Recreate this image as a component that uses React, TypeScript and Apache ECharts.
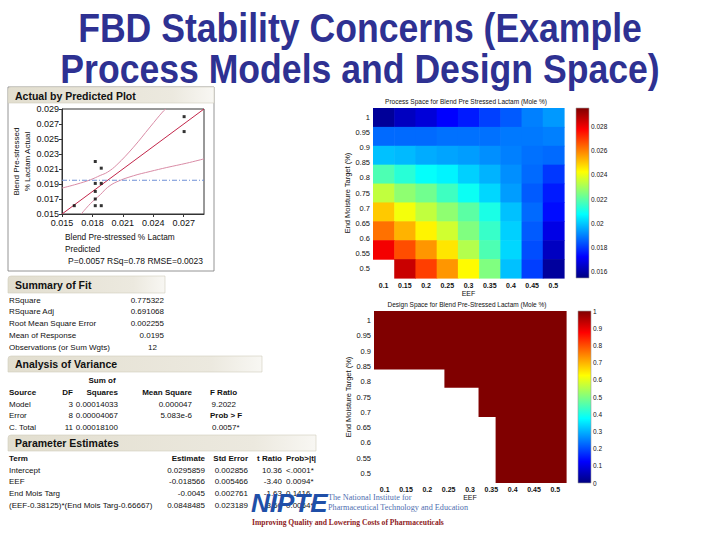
import React, { useEffect, useRef } from 'react';
import * as echarts from 'echarts';

// ---------- Title ----------
const titleLines = ['FBD Stability Concerns (Example', 'Process Models and Design Space)'];

// ---------- Actual by Predicted plot ----------
const apRange = [0.015, 0.029];
const predicted = [0.01621, 0.01828, 0.01828, 0.01828, 0.01828, 0.01828, 0.01887, 0.01887, 0.01887, 0.02704, 0.02704];
const actual = [0.01611, 0.0220, 0.01908, 0.01801, 0.0170, 0.01611, 0.02111, 0.01908, 0.01611, 0.02798, 0.02599];
const fitX = [0.015, 0.029];
const fitY = [0.015, 0.029];
const meanResponse = 0.0195;
const upperX = [0.015, 0.01648, 0.01779, 0.01877, 0.01949, 0.02041, 0.02205, 0.02369, 0.025, 0.02526];
const upperY = [0.01846, 0.01899, 0.01956, 0.02014, 0.02058, 0.02156, 0.02391, 0.02661, 0.02873, 0.029];
const lowerX = [0.0169, 0.01779, 0.01877, 0.01949, 0.02041, 0.02205, 0.02369, 0.02533, 0.0273, 0.029];
const lowerY = [0.015, 0.01637, 0.01757, 0.01854, 0.0193, 0.0201, 0.02067, 0.0212, 0.02178, 0.02235];
const apStatLine = 'P=0.0057 RSq=0.78 RMSE=0.0023';

// ---------- JMP tables ----------
const summaryLabels = ['RSquare', 'RSquare Adj', 'Root Mean Square Error', 'Mean of Response', 'Observations (or Sum Wgts)'];
const summaryValues = ['0.775322', '0.691068', '0.002255', '0.0195', '12'];

const anovaSource = ['Model', 'Error', 'C. Total'];
const anovaDF = ['3', '8', '11'];
const anovaSS = ['0.00014033', '0.00004067', '0.00018100'];
const anovaMS = ['0.000047', '5.083e-6', ''];
const anovaF = ['9.2022', 'Prob > F', '0.0057*'];

const peTerms = ['Intercept', 'EEF', 'End Mois Targ', '(EEF-0.38125)*(End Mois Targ-0.66667)'];
const peEstimate = ['0.0295859', '-0.018566', '-0.0045', '0.0848485'];
const peStdError = ['0.002856', '0.005466', '0.002761', '0.023189'];
const peTRatio = ['10.36', '-3.40', '-1.63', '3.66'];
const peProb = ['<.0001*', '0.0094*', '0.1416', '0.0064*'];

// ---------- Process space heatmap ----------
const eefLevels = [0.1, 0.15, 0.2, 0.25, 0.3, 0.35, 0.4, 0.45, 0.5];
const emtLevels = [1, 0.9375, 0.875, 0.8125, 0.75, 0.6875, 0.625, 0.5625, 0.5]; // rows top -> bottom
const processValues: (number | null)[][] = [
  [0.01585, 0.01638, 0.01673, 0.01725, 0.0176, 0.01813, 0.01848, 0.019, 0.01935],
  [0.0187, 0.0187, 0.0187, 0.0188, 0.0188, 0.0188, 0.0189, 0.0189, 0.019],
  [0.0199, 0.0198, 0.0196, 0.0195, 0.0194, 0.0192, 0.019, 0.0188, 0.0187],
  [0.0218, 0.0213, 0.0208, 0.0206, 0.0201, 0.0197, 0.0192, 0.0187, 0.018],
  [0.0234, 0.0227, 0.0223, 0.0216, 0.0209, 0.0202, 0.0194, 0.0185, 0.0176],
  [0.025, 0.0241, 0.0234, 0.0227, 0.022, 0.0211, 0.0199, 0.0187, 0.0174],
  [0.0262, 0.0253, 0.0244, 0.0236, 0.0225, 0.0215, 0.0201, 0.0185, 0.0169],
  [0.0279, 0.0267, 0.0257, 0.0246, 0.0232, 0.0218, 0.0202, 0.0183, 0.0164],
  [null, 0.0285, 0.0269, 0.0257, 0.0243, 0.0225, 0.0199, 0.0181, 0.0159],
];
const processRange = [0.0155, 0.0295];
const processCbTicks = [0.016, 0.018, 0.02, 0.022, 0.024, 0.026, 0.028];
const eefTicks = [0.1, 0.15, 0.2, 0.25, 0.3, 0.35, 0.4, 0.45, 0.5];
const emtTicks = [0.5, 0.55, 0.6, 0.65, 0.7, 0.75, 0.8, 0.85, 0.9, 0.95, 1];

// ---------- Design space ----------
const designEefFrom = [0.075, 0.24, 0.32, 0.36];
const designEefTo = [0.24, 0.32, 0.36, 0.525];
const designEmtFrom = [0.84, 0.78, 0.685, 0.46875];
const designValue = [1, 1, 1, 1];
const designRange = [0, 1];
const designCbTicks = [0, 0.1, 0.2, 0.3, 0.4, 0.5, 0.6, 0.7, 0.8, 0.9, 1];

const jet = ['#000080', '#0000ff', '#0080ff', '#00ffff', '#80ff80', '#ffff00', '#ff8000', '#ff0000', '#800000'];

const FONT = "'Liberation Sans', Arial, Helvetica, sans-serif";
const SERIF = "'Liberation Serif', 'Times New Roman', serif";

function txt(x: number, y: number, text: string, o: any = {}) {
  const el: any = {
    type: 'text',
    x,
    y,
    silent: true,
    style: {
      text,
      fill: o.fill || '#111',
      fontSize: o.size || 8,
      fontFamily: o.family || FONT,
      fontWeight: o.weight || 'normal',
      fontStyle: o.fontStyle || 'normal',
      align: o.align || 'left',
      verticalAlign: 'middle',
      textAlign: o.align || 'left',
      textVerticalAlign: 'middle',
    },
  };
  if (o.scaleX) el.scaleX = o.scaleX;
  return el;
}

function header(x: number, y: number, w: number, h: number) {
  return {
    type: 'rect',
    silent: true,
    shape: { x, y, width: w, height: h, r: [3, 0, 0, 0] },
    style: {
      fill: new echarts.graphic.LinearGradient(0, 0, 1, 0, [
        { offset: 0, color: '#E2DECF' },
        { offset: 0.8, color: '#ECE9DF' },
        { offset: 1, color: '#F8F7F3' },
      ]),
      stroke: '#D2CDBE',
      lineWidth: 0.6,
    },
  };
}

export default function App() {
  const ref = useRef<HTMLDivElement>(null);
  useEffect(() => {
    if (!ref.current) return;
    const chart = echarts.init(ref.current, undefined, { renderer: 'svg' });

    const halfEEF = (eefLevels[1] - eefLevels[0]) / 2;
    const halfEMT = (emtLevels[0] - emtLevels[1]) / 2;
    const hxMin = eefLevels[0] - halfEEF;
    const hxMax = eefLevels[eefLevels.length - 1] + halfEEF;
    const hyMin = emtLevels[emtLevels.length - 1] - halfEMT;
    const hyMax = emtLevels[0] + halfEMT;

    const processData: number[][] = [];
    processValues.forEach((row, r) =>
      row.forEach((v, c) => {
        if (v !== null) processData.push([eefLevels[c], emtLevels[r], v]);
      })
    );
    const designData = designEefFrom.map((x0, i) => [x0, designEefTo[i], designEmtFrom[i], designValue[i]]);

    const gradStops = jet.map((c, i) => ({ offset: i / (jet.length - 1), color: c }));

    const cellRender = (params: any, api: any) => {
      const x = api.value(0);
      const y = api.value(1);
      const a = api.coord([x - halfEEF, y + halfEMT]);
      const b = api.coord([x + halfEEF, y - halfEMT]);
      return {
        type: 'rect',
        shape: { x: a[0], y: a[1], width: b[0] - a[0] + 0.6, height: b[1] - a[1] + 0.6 },
        style: { fill: api.visual('color') },
      };
    };
    const designRender = (params: any, api: any) => {
      const a = api.coord([api.value(0), hyMax]);
      const b = api.coord([api.value(1), api.value(2)]);
      return {
        type: 'rect',
        shape: { x: a[0], y: a[1], width: b[0] - a[0] + 0.6, height: b[1] - a[1] },
        style: { fill: api.visual('color') },
      };
    };
    const cbRender = (params: any, api: any) => {
      const a = api.coord([0, api.value(1)]);
      const b = api.coord([1, api.value(0)]);
      return {
        type: 'rect',
        shape: { x: a[0], y: a[1], width: b[0] - a[0], height: b[1] - a[1] },
        style: {
          fill: new echarts.graphic.LinearGradient(0, 1, 0, 0, gradStops),
          stroke: '#A0A0A0',
          lineWidth: 0.6,
        },
      };
    };

    const heatXAxis = (gridIndex: number, nameGap: number, margin: number) => ({
      gridIndex,
      type: 'value',
      min: hxMin,
      max: hxMax,
      name: 'EEF',
      nameLocation: 'middle',
      nameGap,
      nameTextStyle: { fontSize: 7, color: '#111', fontFamily: FONT },
      axisLine: { show: false },
      axisTick: { show: false },
      splitLine: { show: false },
      axisLabel: {
        customValues: eefTicks,
        fontSize: 7,
        fontWeight: 'bold',
        color: '#111',
        fontFamily: FONT,
        margin,
        formatter: (v: number) => String(parseFloat(v.toFixed(2))),
      },
    });
    const heatYAxis = (gridIndex: number) => ({
      gridIndex,
      type: 'value',
      min: hyMin,
      max: hyMax,
      name: 'End Moisture Target (%)',
      nameLocation: 'middle',
      nameGap: 20,
      nameTextStyle: { fontSize: 7.5, color: '#111', fontFamily: FONT },
      axisLine: { show: false },
      axisTick: { show: false },
      splitLine: { show: false },
      axisLabel: {
        customValues: emtTicks,
        fontSize: 7.5,
        color: '#111',
        fontFamily: FONT,
        margin: 3,
        formatter: (v: number) => String(parseFloat(v.toFixed(2))),
      },
    });
    const cbXAxis = (gridIndex: number) => ({ gridIndex, type: 'value', min: 0, max: 1, show: false });
    const cbYAxis = (gridIndex: number, range: number[], ticks: number[]) => ({
      gridIndex,
      type: 'value',
      position: 'right',
      min: range[0],
      max: range[1],
      axisLine: { show: false },
      axisTick: { show: false },
      splitLine: { show: false },
      axisLabel: {
        customValues: ticks,
        fontSize: 6.5,
        color: '#111',
        fontFamily: FONT,
        margin: 2,
        formatter: (v: number) => String(parseFloat(v.toFixed(3))),
      },
    });

    const graphic: any[] = [];
    // Title
    graphic.push(txt(360, 27.8, titleLines[0], { size: 40, weight: 'bold', fill: '#2E3192', align: 'center', scaleX: 0.89 }));
    graphic.push(txt(360, 69.4, titleLines[1], { size: 40, weight: 'bold', fill: '#2E3192', align: 'center', scaleX: 0.89 }));

    // Actual by Predicted section
    graphic.push({ type: 'rect', silent: true, shape: { x: 8, y: 87, width: 206, height: 184 }, style: { fill: 'none', stroke: '#7A7A7A', lineWidth: 0.8 } });
    graphic.push(header(8, 87, 206, 16));
    graphic.push(txt(15, 95.5, 'Actual by Predicted Plot', { size: 10.5, weight: 'bold' }));
    graphic.push(txt(65, 237, 'Blend Pre-stressed % Lactam', { size: 8.3 }));
    graphic.push(txt(65, 249, 'Predicted', { size: 8.3 }));
    graphic.push(txt(68, 261, apStatLine, { size: 8.5 }));

    // Summary of Fit
    graphic.push(header(8, 276, 157, 17));
    graphic.push(txt(15, 285, 'Summary of Fit', { size: 10.5, weight: 'bold' }));
    summaryLabels.forEach((l, i) => {
      const y = 300 + i * 11.8;
      graphic.push(txt(9, y, l, { size: 8 }));
      const isInt = summaryValues[i].indexOf('.') < 0;
      graphic.push(txt(isInt ? 157 : 164, y, summaryValues[i], { size: 8, align: 'right' }));
    });

    // Analysis of Variance
    graphic.push(header(8, 356, 254, 16));
    graphic.push(txt(15, 364, 'Analysis of Variance', { size: 10.5, weight: 'bold' }));
    graphic.push(txt(102, 380, 'Sum of', { size: 8, weight: 'bold', align: 'center' }));
    graphic.push(txt(9, 392, 'Source', { size: 8, weight: 'bold' }));
    graphic.push(txt(73, 392, 'DF', { size: 8, weight: 'bold', align: 'right' }));
    graphic.push(txt(118, 392, 'Squares', { size: 8, weight: 'bold', align: 'right' }));
    graphic.push(txt(192, 392, 'Mean Square', { size: 8, weight: 'bold', align: 'right' }));
    graphic.push(txt(210, 392, 'F Ratio', { size: 8, weight: 'bold' }));
    anovaSource.forEach((s, i) => {
      const y = 404 + i * 11.8;
      graphic.push(txt(9, y, s, { size: 8 }));
      graphic.push(txt(73, y, anovaDF[i], { size: 8, align: 'right' }));
      graphic.push(txt(118, y, anovaSS[i], { size: 8, align: 'right' }));
      if (anovaMS[i]) graphic.push(txt(192, y, anovaMS[i], { size: 8, align: 'right' }));
      if (i === 0) graphic.push(txt(236, y, anovaF[i], { size: 8, align: 'right' }));
      else if (i === 1) graphic.push(txt(210, y, anovaF[i], { size: 8, weight: 'bold' }));
      else graphic.push(txt(212, y, anovaF[i], { size: 8 }));
    });

    // Parameter Estimates
    graphic.push(header(8, 435, 308, 16));
    graphic.push(txt(15, 443, 'Parameter Estimates', { size: 10.5, weight: 'bold' }));
    graphic.push(txt(9, 458, 'Term', { size: 8, weight: 'bold' }));
    graphic.push(txt(205, 458, 'Estimate', { size: 8, weight: 'bold', align: 'right' }));
    graphic.push(txt(248, 458, 'Std Error', { size: 8, weight: 'bold', align: 'right' }));
    graphic.push(txt(282, 458, 't Ratio', { size: 8, weight: 'bold', align: 'right' }));
    graphic.push(txt(286, 458, 'Prob>|t|', { size: 8, weight: 'bold' }));
    peTerms.forEach((term, i) => {
      const y = 470 + i * 11.8;
      graphic.push(txt(9, y, term, { size: 8 }));
      graphic.push(txt(205, y, peEstimate[i], { size: 8, align: 'right' }));
      graphic.push(txt(248, y, peStdError[i], { size: 8, align: 'right' }));
      graphic.push(txt(282, y, peTRatio[i], { size: 8, align: 'right' }));
      graphic.push(txt(286, y, peProb[i], { size: 8 }));
    });

    // NIPTE logo
    graphic.push(txt(251, 503, 'NIPTE', { size: 26, weight: 'bold', fontStyle: 'italic', fill: '#1F4FA8', family: "'Liberation Sans', Arial, sans-serif" }));
    graphic.push(txt(328, 497.5, 'The National Institute for', { size: 8.2, family: SERIF, fill: '#4F6FB0' }));
    graphic.push(txt(328, 507.5, 'Pharmaceutical Technology and Education', { size: 8.2, family: SERIF, fill: '#4F6FB0' }));
    graphic.push(txt(252, 522, 'Improving Quality and Lowering Costs of Pharmaceuticals', { size: 7.6, family: SERIF, weight: 'bold', fill: '#8E1B22' }));

    // Heatmap titles
    graphic.push(txt(466, 101, 'Process Space for Blend Pre Stressed Lactam (Mole %)', { size: 6.5, align: 'center' }));
    graphic.push(txt(467, 304, 'Design Space for Blend Pre-Stressed Lactam (Mole %)', { size: 6.5, align: 'center' }));

    const option: any = {
      animation: false,
      backgroundColor: '#ffffff',
      textStyle: { fontFamily: FONT },
      grid: [
        { left: 62, top: 109, width: 142, height: 105, show: true, borderColor: '#333', borderWidth: 1, backgroundColor: '#fff' },
        { left: 373, top: 108, width: 191, height: 170 },
        { left: 576, top: 108, width: 13, height: 170 },
        { left: 374, top: 311, width: 192, height: 172 },
        { left: 578, top: 311, width: 13, height: 172 },
      ],
      xAxis: [
        {
          gridIndex: 0,
          type: 'value',
          min: apRange[0],
          max: apRange[1],
          interval: 0.003,
          axisLine: { show: true, lineStyle: { color: '#333' } },
          axisTick: { show: true, length: 3, lineStyle: { color: '#333' } },
          splitLine: { show: false },
          axisLabel: { fontSize: 9, color: '#111', margin: 4, showMaxLabel: false, formatter: (v: number) => v.toFixed(3) },
        },
        heatXAxis(1, 11, 4),
        cbXAxis(2),
        heatXAxis(3, 10, 3),
        cbXAxis(4),
      ],
      yAxis: [
        {
          gridIndex: 0,
          type: 'value',
          min: apRange[0],
          max: apRange[1],
          interval: 0.002,
          name: 'Blend Pre-stressed\n% Lactam Actual',
          nameLocation: 'middle',
          nameGap: 28,
          nameTextStyle: { fontSize: 8, lineHeight: 11, color: '#111', fontFamily: FONT },
          axisLine: { show: true, lineStyle: { color: '#333' } },
          axisTick: { show: true, length: 3, lineStyle: { color: '#333' } },
          splitLine: { show: false },
          axisLabel: { fontSize: 9, color: '#111', margin: 3, formatter: (v: number) => v.toFixed(3) },
        },
        heatYAxis(1),
        cbYAxis(2, processRange, processCbTicks),
        heatYAxis(3),
        cbYAxis(4, designRange, designCbTicks),
      ],
      visualMap: [
        { type: 'continuous', show: false, min: processRange[0], max: processRange[1], dimension: 2, seriesIndex: [5], inRange: { color: jet } },
        { type: 'continuous', show: false, min: designRange[0], max: designRange[1], dimension: 3, seriesIndex: [7], inRange: { color: jet } },
      ],
      series: [
        {
          type: 'scatter',
          xAxisIndex: 0,
          yAxisIndex: 0,
          symbol: 'rect',
          symbolSize: 3,
          itemStyle: { color: '#000' },
          data: predicted.map((p, i) => [p, actual[i]]),
          z: 5,
        },
        {
          type: 'line',
          xAxisIndex: 0,
          yAxisIndex: 0,
          symbol: 'none',
          lineStyle: { color: '#C2264A', width: 1 },
          data: fitX.map((x, i) => [x, fitY[i]]),
        },
        {
          type: 'line',
          xAxisIndex: 0,
          yAxisIndex: 0,
          symbol: 'none',
          smooth: 0.4,
          clip: true,
          lineStyle: { color: '#D98CA6', width: 1 },
          data: upperX.map((x, i) => [x, upperY[i]]),
        },
        {
          type: 'line',
          xAxisIndex: 0,
          yAxisIndex: 0,
          symbol: 'none',
          smooth: 0.4,
          clip: true,
          lineStyle: { color: '#D98CA6', width: 1 },
          data: lowerX.map((x, i) => [x, lowerY[i]]),
        },
        {
          type: 'line',
          xAxisIndex: 0,
          yAxisIndex: 0,
          symbol: 'none',
          lineStyle: { color: '#6F90D6', width: 1, type: [5, 2, 1, 2] },
          data: apRange.map((x) => [x, meanResponse]),
        },
        {
          type: 'custom',
          xAxisIndex: 1,
          yAxisIndex: 1,
          renderItem: cellRender,
          encode: { x: 0, y: 1 },
          data: processData,
        },
        {
          type: 'custom',
          xAxisIndex: 2,
          yAxisIndex: 2,
          renderItem: cbRender,
          encode: { y: [0, 1] },
          data: [[processRange[0], processRange[1]]],
        },
        {
          type: 'custom',
          xAxisIndex: 3,
          yAxisIndex: 3,
          renderItem: designRender,
          encode: { x: [0, 1], y: 2 },
          data: designData,
        },
        {
          type: 'custom',
          xAxisIndex: 4,
          yAxisIndex: 4,
          renderItem: cbRender,
          encode: { y: [0, 1] },
          data: [[designRange[0], designRange[1]]],
        },
      ],
      graphic,
    };
    chart.setOption(option);
    return () => chart.dispose();
  }, []);
  return <div ref={ref} style={{ position: 'absolute', left: 0, top: 0, width: 720, height: 540, background: '#fff' }} />;
}
